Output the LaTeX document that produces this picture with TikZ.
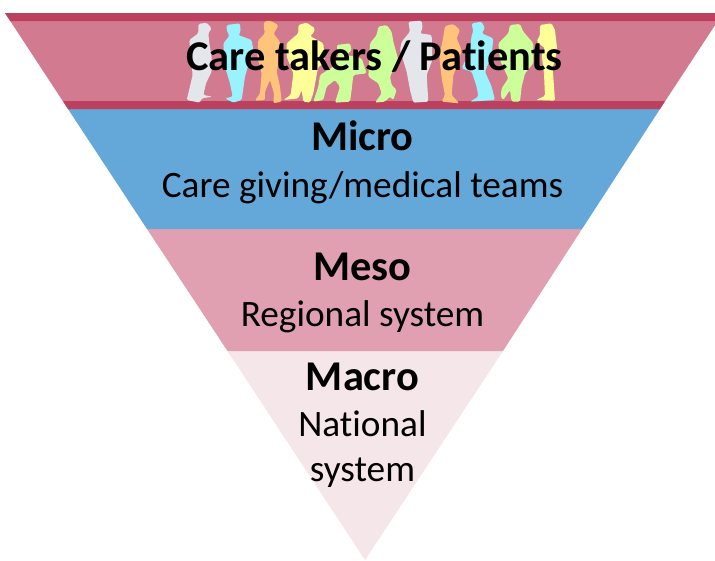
\documentclass[tikz,border=0pt]{standalone}
\usepackage{fontspec}
\setmainfont[Ligatures=NoCommon]{Carlito}
\definecolor{dark}{HTML}{BC415F}
\definecolor{mid}{HTML}{D27A90}
\definecolor{blu}{HTML}{64A7D9}
\definecolor{mes}{HTML}{E0A0B1}
\definecolor{mac}{HTML}{F5E6E9}
\definecolor{pg}{HTML}{E3E6EA}
\definecolor{pc}{HTML}{99F3FF}
\definecolor{po}{HTML}{FFC47A}
\definecolor{py}{HTML}{FFFF99}
\definecolor{pl}{HTML}{CCFF99}
\tikzset{
 head/.style={font=\fontsize{42.4}{42.4}\selectfont\bfseries,text=black,inner sep=0pt,anchor=base},
 sub/.style={font=\fontsize{37.3}{37.3}\selectfont,text=black,inner sep=0pt,anchor=base},
 fig/.style={rounded corners=1.5pt}
}
\begin{document}
\begin{tikzpicture}[x=1pt,y=-1pt]
\useasboundingbox (0,0) rectangle (715,560);
\clip (0,0) rectangle (715,560);
\fill[white] (0,0) rectangle (715,560);
\fill[mac] (227.5,351) -- (503,351) -- (365,560) -- cycle;
\fill[mes] (147,229) -- (582,229) -- (503,351) -- (227.5,351) -- cycle;
\fill[blu] (68,109) -- (660,109) -- (582,229) -- (147,229) -- cycle;
\fill[mid] (5,13) -- (723,13) -- (660,109) -- (68,109) -- cycle;
\fill[dark] (5,13) -- (723,13) -- (718,21) -- (10.3,21) -- cycle;
\fill[dark] (63,101) -- (665,101) -- (660,109) -- (68,109) -- cycle;
\begin{scope}[x=0.3333pt,y=-0.3333pt,xshift=170pt]
\fill[pg,fig] (85,72)--(110,68)--(125,85)--(115,100)--(118,130)--(125,170)--(125,215)--(108,250)--(100,285)--(128,290)--(95,295)--(90,308)--(50,300)--(55,280)--(68,225)--(62,170)--(58,120)--(85,100)--cycle;
\fill[pc,fig] (170,75)--(210,70)--(212,95)--(205,105)--(245,120)--(250,150)--(235,195)--(225,230)--(215,300)--(190,308)--(165,295)--(188,290)--(180,250)--(165,200)--(160,130)--(178,108)--(170,90)--cycle;
\fill[po,fig] (282,65)--(300,62)--(325,75)--(318,90)--(310,100)--(330,125)--(325,190)--(320,215)--(330,260)--(335,305)--(310,310)--(312,280)--(300,240)--(285,275)--(285,300)--(255,302)--(270,280)--(275,220)--(262,170)--(265,120)--(285,100)--(282,85)--cycle;
\fill[py,fig] (385,75)--(410,68)--(435,85)--(430,100)--(420,108)--(460,130)--(465,190)--(445,200)--(440,225)--(430,280)--(420,308)--(400,305)--(395,270)--(385,295)--(340,300)--(362,285)--(370,220)--(350,170)--(350,130)--(385,100)--cycle;
\fill[pl,fig] (500,135)--(540,130)--(545,150)--(530,165)--(575,175)--(590,220)--(550,225)--(545,270)--(540,305)--(495,308)--(510,260)--(495,240)--(470,260)--(460,300)--(430,305)--(445,260)--(450,225)--(490,200)--(505,165)--cycle;
\end{scope}
\begin{scope}[x=0.3333pt,y=-0.3333pt,xshift=370pt]
\fill[pl,fig] (25,80)--(50,75)--(65,95)--(70,125)--(85,180)--(60,230)--(65,255)--(80,270)--(70,300)--(60,290)--(45,305)--(15,308)--(35,280)--(25,250)--(-5,230)--(0,130)--(20,105)--cycle;
\fill[pg,fig] (115,65)--(155,62)--(158,85)--(150,100)--(185,105)--(187,180)--(170,225)--(175,305)--(130,308)--(120,270)--(110,215)--(90,150)--(95,125)--(120,95)--cycle;
\fill[po,fig] (225,78)--(250,72)--(270,90)--(260,115)--(275,150)--(265,190)--(250,225)--(245,285)--(268,310)--(215,305)--(225,285)--(215,235)--(208,170)--(220,110)--cycle;
\fill[pc,fig] (305,70)--(335,65)--(345,85)--(335,100)--(370,115)--(365,165)--(345,215)--(365,260)--(375,300)--(300,305)--(325,290)--(320,260)--(305,215)--(275,205)--(300,150)--(305,105)--(310,95)--cycle;
\fill[pl,fig] (420,75)--(450,72)--(460,95)--(490,130)--(490,190)--(465,220)--(455,260)--(450,305)--(425,305)--(420,270)--(400,300)--(392,290)--(395,265)--(415,235)--(390,180)--(385,130)--(415,100)--cycle;
\fill[py,fig] (510,75)--(545,70)--(555,90)--(562,150)--(548,205)--(552,260)--(555,302)--(498,300)--(525,288)--(522,220)--(515,165)--(525,145)--(500,125)--(510,105)--cycle;
\end{scope}
\node[head] (care) at (374.5,70.5) {Care takers / Patients};
\node[head] (micro) at (362.5,150.5) {Micro};
\node[sub] (microsub) at (362.5,197) {Care giving/medical teams};
\node[head] (meso) at (362.5,280.5) {Meso};
\node[sub] (mesosub) at (362.5,326) {Regional system};
\node[head] (macro) at (362.5,390.5) {Macro};
\node[sub] (macroa) at (362.5,436) {National};
\node[sub] (macrob) at (362.5,481) {system};
\end{tikzpicture}
\end{document}
